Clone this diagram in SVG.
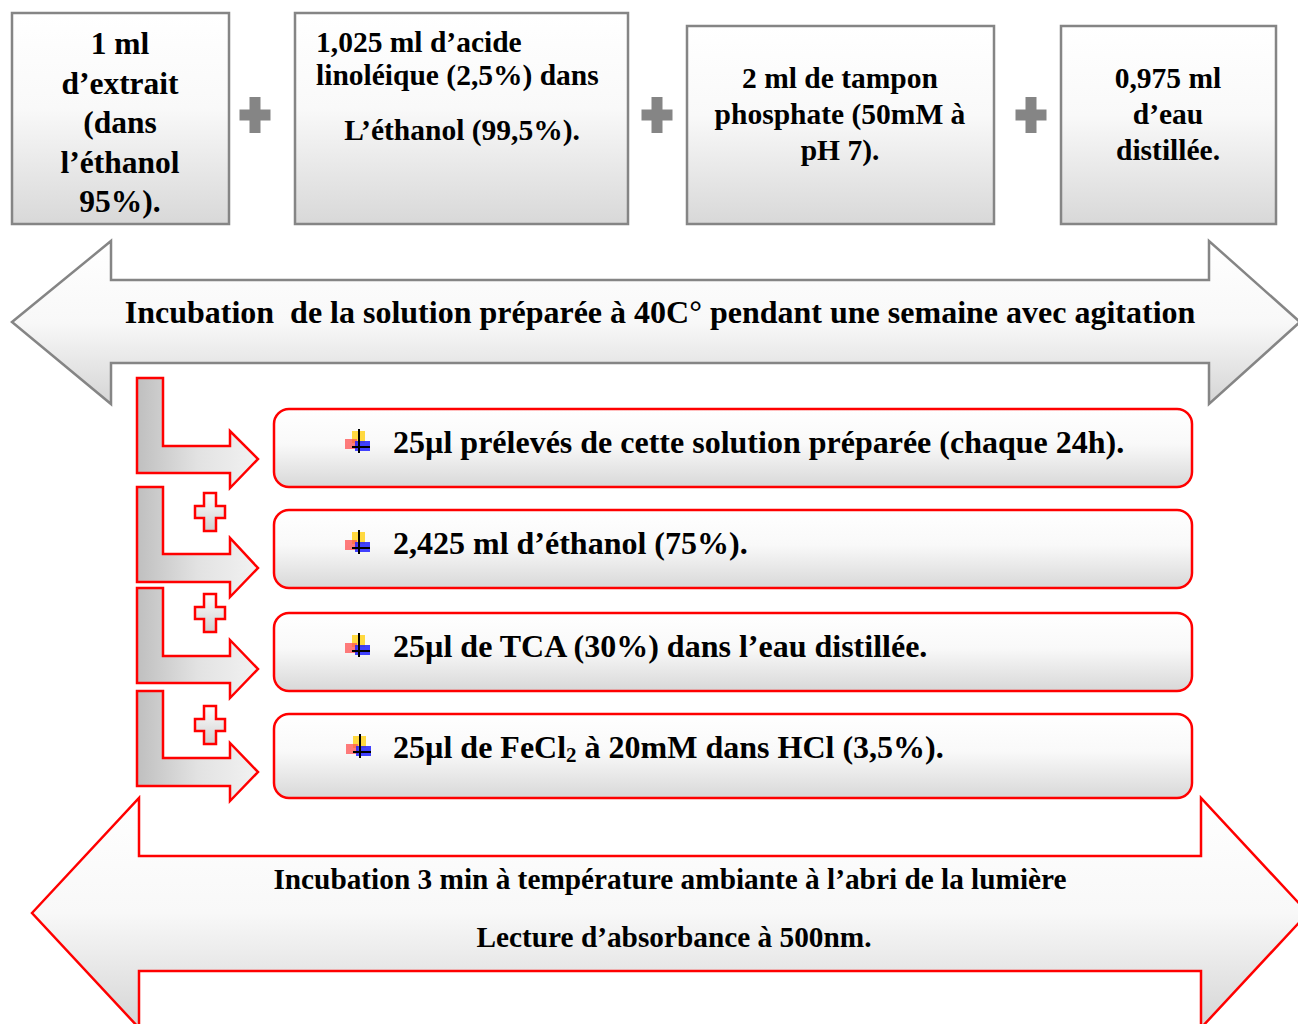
<svg xmlns="http://www.w3.org/2000/svg" width="1298" height="1024" viewBox="0 0 1298 1024">
<style>
.t{font-family:"Liberation Serif","Times New Roman",serif;font-weight:bold;fill:#000}
.b1{font-size:31.5px}
.b{font-size:29.5px}
.m{font-size:32px}
.s{font-size:29.3px}
.box{stroke:#858585;stroke-width:2.5;fill:url(#gBox)}
.gplus{fill:#858585}
.rplus{fill:url(#gRp);stroke:#ff0000;stroke-width:2.5}
.bent{fill:url(#gBent);stroke:#ff0000;stroke-width:2.5}
.step{fill:url(#gBox);stroke:#ff0000;stroke-width:2.5}
</style>
<defs>
<linearGradient id="gBox" x1="0" y1="0" x2="0" y2="1">
<stop offset="0" stop-color="#ffffff"/><stop offset="0.45" stop-color="#f9f9f9"/><stop offset="1" stop-color="#d8d8d8"/>
</linearGradient>
<linearGradient id="gArrow" x1="0" y1="0" x2="0" y2="1">
<stop offset="0" stop-color="#ffffff"/><stop offset="0.5" stop-color="#f8f8f8"/><stop offset="1" stop-color="#d5d5d5"/>
</linearGradient>
<linearGradient id="gBent" x1="0" y1="0" x2="1" y2="0">
<stop offset="0" stop-color="#bfbfbf"/><stop offset="0.5" stop-color="#e2e2e2"/><stop offset="1" stop-color="#f2f2f2"/>
</linearGradient>
<linearGradient id="gRp" x1="0" y1="0" x2="0" y2="1">
<stop offset="0" stop-color="#ffffff"/><stop offset="1" stop-color="#d0d0d0"/>
</linearGradient>
<g id="bullet">
<rect x="-7" y="-12" width="13" height="12" fill="#ffd21f" opacity="0.85"/>
<rect x="-14" y="-4" width="12" height="10" fill="#ff5050" opacity="0.75"/>
<rect x="-4" y="-2" width="15" height="10" fill="#2020ff" opacity="0.85"/>
<line x1="0" y1="-14" x2="0" y2="10" stroke="#000" stroke-width="2"/>
<line x1="-7" y1="4" x2="11" y2="4" stroke="#000" stroke-width="2"/>
</g>
<path id="gp" d="M-5.5,-18 h11 v12.5 h10 v11 h-10 v12.5 h-11 v-12.5 h-10 v-11 h10 z"/>
<path id="rp" d="M-6,-19 h12 v13 h9 v12 h-9 v13 h-12 v-13 h-9 v-12 h9 z"/>
</defs>
<rect width="1298" height="1024" fill="#ffffff"/>

<g id="box1">
<rect class="box" x="12" y="13" width="217" height="211"/>
<text class="t b1" text-anchor="middle"><tspan x="120" y="54">1 ml</tspan><tspan x="120" y="93.5">d’extrait</tspan><tspan x="120" y="133">(dans</tspan><tspan x="120" y="172.5">l’éthanol</tspan><tspan x="120" y="212">95%).</tspan></text>
</g>
<g id="box2">
<rect class="box" x="295" y="13" width="333" height="211"/>
<text class="t b"><tspan x="316" y="52">1,025 ml d’acide</tspan><tspan x="316" y="85">linoléique (2,5%) dans</tspan><tspan x="462" y="140" text-anchor="middle">L’éthanol (99,5%).</tspan></text>
</g>
<g id="box3">
<rect class="box" x="687" y="26" width="307" height="198"/>
<text class="t b" text-anchor="middle"><tspan x="840" y="88">2 ml de tampon</tspan><tspan x="840" y="124">phosphate (50mM à</tspan><tspan x="840" y="160">pH 7).</tspan></text>
</g>
<g id="box4">
<rect class="box" x="1061" y="26" width="215" height="198"/>
<text class="t b" text-anchor="middle"><tspan x="1168" y="88">0,975 ml</tspan><tspan x="1168" y="124">d’eau</tspan><tspan x="1168" y="160">distillée.</tspan></text>
</g>
<g id="plus-gray">
<use href="#gp" class="gplus" x="255" y="115"/>
<use href="#gp" class="gplus" x="657" y="115"/>
<use href="#gp" class="gplus" x="1031" y="115"/>
</g>

<g id="incubation1">
<polygon points="12,322 111,241 111,280 1209,280 1209,241 1300,322 1209,404 1209,363 111,363 111,404" fill="url(#gArrow)" stroke="#858585" stroke-width="2.5"/>
<text class="t m" x="660" y="323" text-anchor="middle" style="white-space:pre" xml:space="preserve">Incubation  de la solution préparée à 40C° pendant une semaine avec agitation</text>
</g>

<g id="connectors">
<path class="bent" d="M137,378 h26 v68 h67 v-15 l28,28 l-28,29 v-15 h-93 z"/>
<path class="bent" d="M137,487 h26 v67 h67 v-16 l28,30 l-28,29 v-15 h-93 z"/>
<path class="bent" d="M137,588 h26 v68 h67 v-16 l28,29 l-28,29 v-15 h-93 z"/>
<path class="bent" d="M137,691 h26 v67 h67 v-15 l28,29 l-28,29 v-15 h-93 z"/>
<use href="#rp" class="rplus" x="210" y="512"/>
<use href="#rp" class="rplus" x="210" y="613"/>
<use href="#rp" class="rplus" x="210" y="725"/>
</g>

<g id="step1">
<rect class="step" x="274" y="409" width="918" height="78" rx="15"/>
<use href="#bullet" x="359" y="443"/>
<text class="t m" x="393" y="453">25µl prélevés de cette solution préparée (chaque 24h).</text>
</g>
<g id="step2">
<rect class="step" x="274" y="510" width="918" height="78" rx="15"/>
<use href="#bullet" x="359" y="544"/>
<text class="t m" x="393" y="554">2,425 ml d’éthanol (75%).</text>
</g>
<g id="step3">
<rect class="step" x="274" y="613" width="918" height="78" rx="15"/>
<use href="#bullet" x="359" y="647"/>
<text class="t m" x="393" y="657">25µl de TCA (30%) dans l’eau distillée.</text>
</g>
<g id="step4">
<rect class="step" x="274" y="714" width="918" height="84" rx="15"/>
<use href="#bullet" x="360" y="748"/>
<text class="t m" x="393" y="758">25µl de FeCl<tspan font-size="21" dy="4">2</tspan><tspan dy="-4"> à 20mM dans HCl (3,5%).</tspan></text>
</g>

<g id="incubation2">
<polygon points="32,913 139,798 139,856 1201,856 1201,798 1308,913 1201,1028 1201,971 139,971 139,1028" fill="url(#gArrow)" stroke="#ff0000" stroke-width="2.5"/>
<text class="t s" x="670" y="889" text-anchor="middle">Incubation 3 min à température ambiante à l’abri de la lumière</text>
<text class="t s" x="674" y="947" text-anchor="middle">Lecture d’absorbance à 500nm.</text>
</g>
</svg>
